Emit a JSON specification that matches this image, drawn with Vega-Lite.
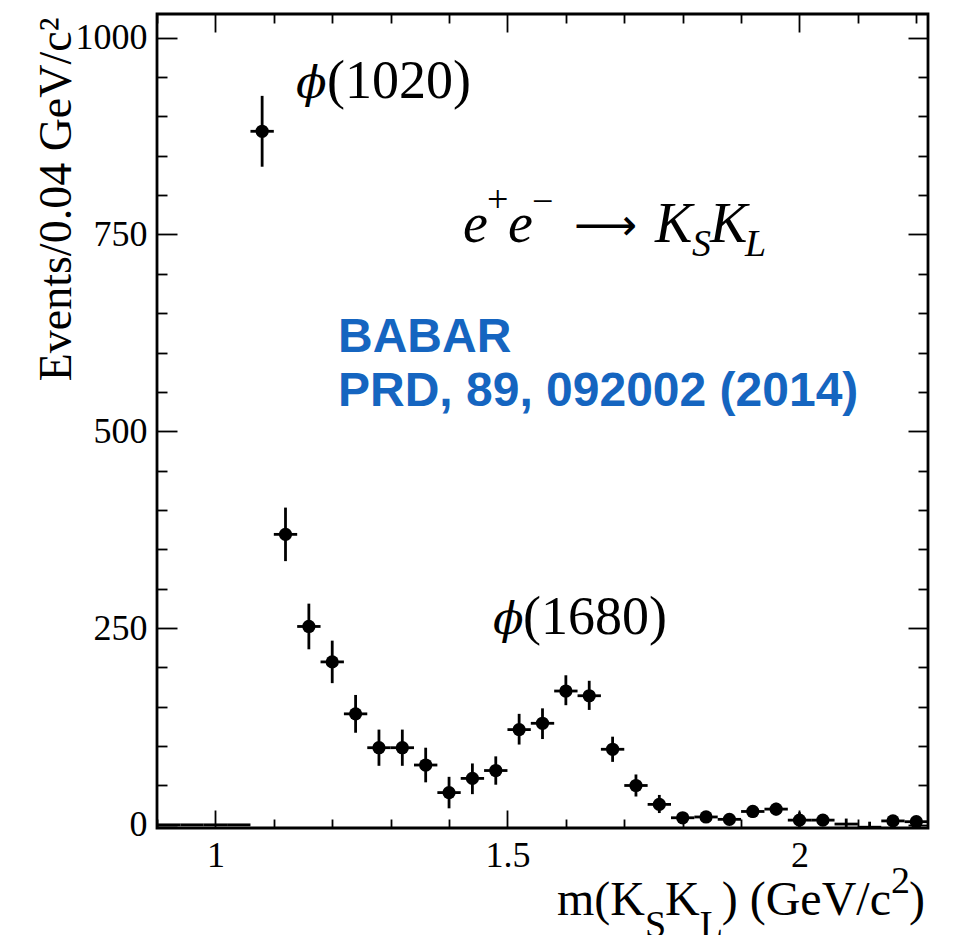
{
  "$schema": "https://vega.github.io/schema/vega-lite/v6.json",
  "width": 771,
  "height": 814,
  "autosize": {"type": "none"},
  "padding": {"left": 157, "top": 14, "right": 29, "bottom": 107},
  "background": "white",
  "config": {
    "view": {"stroke": "black", "strokeWidth": 2.8},
    "axis": {"grid": false, "domain": false, "labelFont": "Liberation Serif", "titleFont": "Liberation Serif", "labelColor": "black", "tickColor": "black", "titleColor": "black"}
  },
  "resolve": {"axis": {"x": "independent", "y": "independent"}},
  "datasets": {
    "bins": [
      {"x": 0.92, "xlo": 0.90, "xhi": 0.94, "y": 0, "lo": 0, "hi": 0},
      {"x": 0.96, "xlo": 0.94, "xhi": 0.98, "y": 0, "lo": 0, "hi": 0},
      {"x": 1.00, "xlo": 0.98, "xhi": 1.02, "y": 0, "lo": 0, "hi": 0},
      {"x": 1.04, "xlo": 1.02, "xhi": 1.06, "y": 0, "lo": 0, "hi": 0},
      {"x": 1.08, "xlo": 1.06, "xhi": 1.10, "y": 881, "lo": 836, "hi": 926},
      {"x": 1.12, "xlo": 1.10, "xhi": 1.14, "y": 369, "lo": 335, "hi": 403},
      {"x": 1.16, "xlo": 1.14, "xhi": 1.18, "y": 252, "lo": 223, "hi": 281},
      {"x": 1.20, "xlo": 1.18, "xhi": 1.22, "y": 207, "lo": 180, "hi": 234},
      {"x": 1.24, "xlo": 1.22, "xhi": 1.26, "y": 141, "lo": 117, "hi": 165},
      {"x": 1.28, "xlo": 1.26, "xhi": 1.30, "y": 98, "lo": 75, "hi": 121},
      {"x": 1.32, "xlo": 1.30, "xhi": 1.34, "y": 98, "lo": 75, "hi": 121},
      {"x": 1.36, "xlo": 1.34, "xhi": 1.38, "y": 76, "lo": 54, "hi": 98},
      {"x": 1.40, "xlo": 1.38, "xhi": 1.42, "y": 41, "lo": 21, "hi": 61},
      {"x": 1.44, "xlo": 1.42, "xhi": 1.46, "y": 59, "lo": 39, "hi": 78},
      {"x": 1.48, "xlo": 1.46, "xhi": 1.50, "y": 69, "lo": 51, "hi": 87},
      {"x": 1.52, "xlo": 1.50, "xhi": 1.54, "y": 121, "lo": 102, "hi": 141},
      {"x": 1.56, "xlo": 1.54, "xhi": 1.58, "y": 129, "lo": 109, "hi": 148},
      {"x": 1.60, "xlo": 1.58, "xhi": 1.62, "y": 170, "lo": 152, "hi": 190},
      {"x": 1.64, "xlo": 1.62, "xhi": 1.66, "y": 164, "lo": 146, "hi": 183},
      {"x": 1.68, "xlo": 1.66, "xhi": 1.70, "y": 96, "lo": 80, "hi": 112},
      {"x": 1.72, "xlo": 1.70, "xhi": 1.74, "y": 50, "lo": 36, "hi": 64},
      {"x": 1.76, "xlo": 1.74, "xhi": 1.78, "y": 26, "lo": 15, "hi": 38},
      {"x": 1.80, "xlo": 1.78, "xhi": 1.82, "y": 9, "lo": 3, "hi": 15},
      {"x": 1.84, "xlo": 1.82, "xhi": 1.86, "y": 10, "lo": 3, "hi": 17},
      {"x": 1.88, "xlo": 1.86, "xhi": 1.90, "y": 7, "lo": 1, "hi": 13},
      {"x": 1.92, "xlo": 1.90, "xhi": 1.94, "y": 17, "lo": 9, "hi": 25},
      {"x": 1.96, "xlo": 1.94, "xhi": 1.98, "y": 20, "lo": 12, "hi": 28},
      {"x": 2.00, "xlo": 1.98, "xhi": 2.02, "y": 6, "lo": -4, "hi": 16},
      {"x": 2.04, "xlo": 2.02, "xhi": 2.06, "y": 6, "lo": -1, "hi": 13},
      {"x": 2.08, "xlo": 2.06, "xhi": 2.10, "y": 1, "lo": -6, "hi": 8},
      {"x": 2.12, "xlo": 2.10, "xhi": 2.14, "y": -3, "lo": -10, "hi": 4},
      {"x": 2.16, "xlo": 2.14, "xhi": 2.18, "y": 5, "lo": -1, "hi": 11},
      {"x": 2.20, "xlo": 2.18, "xhi": 2.22, "y": 4, "lo": -2, "hi": 10}
    ],
    "phi": [
      {"t": "ϕ", "x": 1.1380, "y": 923.3},
      {"t": "ϕ", "x": 1.4753, "y": 242.4}
    ],
    "italicBig": [
      {"t": "e", "x": 1.4239, "y": 740.4},
      {"t": "e", "x": 1.5009, "y": 740.4},
      {"t": "K", "x": 1.7526, "y": 740.4},
      {"t": "K", "x": 1.8468, "y": 740.4}
    ],
    "italicSmall": [
      {"t": "S", "x": 1.8160, "y": 722.6},
      {"t": "L", "x": 1.9067, "y": 722.6}
    ],
    "romanBig": [
      {"t": "(1020)", "x": 1.1910, "y": 923.3},
      {"t": "(1680)", "x": 1.5267, "y": 242.4}
    ],
    "arrow": [
      {"t": "⟶", "x": 1.6140, "y": 743.0}
    ],
    "romanSmall": [
      {"t": "+", "x": 1.4650, "y": 778.0},
      {"t": "−", "x": 1.5420, "y": 776.0},
      {"t": "S", "x": 1.7355, "y": -142.4},
      {"t": "L", "x": 1.8291, "y": -142.4},
      {"t": "2", "x": 2.1565, "y": -86.6}
    ],
    "xTitle": [
      {"t": "m(K", "x": 1.5848, "y": -114.5},
      {"t": "K", "x": 1.7697, "y": -114.5},
      {"t": ") (GeV/c", "x": 1.8668, "y": -114.5},
      {"t": ")", "x": 2.1873, "y": -114.5}
    ],
    "babar": [
      {"t": "BABAR", "x": 1.2099, "y": 600.7},
      {"t": "PRD, 89, 092002 (2014)", "x": 1.2099, "y": 532.1}
    ]
  },
  "layer": [
    {
      "data": {"name": "bins"},
      "mark": {"type": "rule", "color": "black", "strokeWidth": 2.8, "clip": true},
      "encoding": {
        "x": {"field": "x", "type": "quantitative",
          "scale": {"domain": [0.9, 2.22], "nice": false, "zero": false},
          "axis": {"orient": "bottom", "values": [1, 1.5, 2], "format": "~g", "ticks": false, "labels": true, "labelFontSize": 36, "labelPadding": 10, "labelFlush": false, "labelOverlap": false, "title": null}},
        "y": {"field": "lo", "type": "quantitative",
          "scale": {"domain": [-4, 1030], "nice": false, "zero": false},
          "axis": {"orient": "left", "values": [0, 250, 500, 750, 1000], "format": "d", "ticks": false, "labelFontSize": 36, "labelPadding": 10, "labelFlush": false, "labelOverlap": false,
            "title": "Events/0.04 GeV/c²", "titleFontSize": 46, "titleFontWeight": "normal", "titleAngle": -90, "titleAlign": "right", "titleBaseline": "alphabetic", "titleX": -87, "titleY": 3}},
        "y2": {"field": "hi"}
      }
    },
    {
      "data": {"name": "bins"},
      "mark": {"type": "rule", "color": "black", "strokeWidth": 2.8, "clip": true},
      "encoding": {
        "x": {"field": "xlo", "type": "quantitative",
          "scale": {"domain": [0.9, 2.22], "nice": false, "zero": false},
          "axis": {"orient": "bottom", "values": [0.9, 1.0, 1.1, 1.2, 1.3, 1.4, 1.5, 1.6, 1.7, 1.8, 1.9, 2.0, 2.1, 2.2], "labels": false, "ticks": true, "tickWidth": 1.8,
            "tickSize": {"condition": {"test": "abs(datum.value * 2 - round(datum.value * 2)) < 0.001", "value": -18}, "value": -9}, "title": null}},
        "x2": {"field": "xhi"},
        "y": {"field": "y", "type": "quantitative",
          "scale": {"domain": [-4, 1030], "nice": false, "zero": false},
          "axis": {"orient": "left", "values": [0, 50, 100, 150, 200, 250, 300, 350, 400, 450, 500, 550, 600, 650, 700, 750, 800, 850, 900, 950, 1000], "labels": false, "ticks": true, "tickWidth": 1.8,
            "tickSize": {"condition": {"test": "datum.value % 250 == 0", "value": -20}, "value": -10}, "title": null}}
      }
    },
    {
      "data": {"name": "bins"},
      "transform": [{"filter": "datum.y > 2"}],
      "mark": {"type": "point", "shape": "circle", "filled": true, "color": "black", "opacity": 1, "size": 175, "strokeWidth": 0, "clip": true},
      "encoding": {
        "x": {"field": "x", "type": "quantitative",
          "scale": {"domain": [0.9, 2.22], "nice": false, "zero": false},
          "axis": {"orient": "top", "values": [0.9, 1.0, 1.1, 1.2, 1.3, 1.4, 1.5, 1.6, 1.7, 1.8, 1.9, 2.0, 2.1, 2.2], "labels": false, "ticks": true, "tickWidth": 1.8,
            "tickSize": {"condition": {"test": "abs(datum.value * 2 - round(datum.value * 2)) < 0.001", "value": -18}, "value": -9}, "title": null}},
        "y": {"field": "y", "type": "quantitative",
          "scale": {"domain": [-4, 1030], "nice": false, "zero": false},
          "axis": {"orient": "right", "values": [0, 50, 100, 150, 200, 250, 300, 350, 400, 450, 500, 550, 600, 650, 700, 750, 800, 850, 900, 950, 1000], "labels": false, "ticks": true, "tickWidth": 1.8,
            "tickSize": {"condition": {"test": "datum.value % 250 == 0", "value": -20}, "value": -10}, "title": null}}
      }
    },
    {
      "data": {"name": "phi"},
      "mark": {"type": "text", "font": "DejaVu Serif", "fontStyle": "italic", "fontSize": 45, "align": "left", "baseline": "alphabetic", "color": "black"},
      "encoding": {
        "x": {"field": "x", "type": "quantitative", "axis": null, "scale": {"domain": [0.9, 2.22], "nice": false, "zero": false}},
        "y": {"field": "y", "type": "quantitative", "axis": null, "scale": {"domain": [-4, 1030], "nice": false, "zero": false}},
        "text": {"field": "t"}
      }
    },
    {
      "data": {"name": "italicBig"},
      "mark": {"type": "text", "font": "Liberation Serif", "fontStyle": "italic", "fontSize": 56, "align": "left", "baseline": "alphabetic", "color": "black"},
      "encoding": {
        "x": {"field": "x", "type": "quantitative", "axis": null, "scale": {"domain": [0.9, 2.22], "nice": false, "zero": false}},
        "y": {"field": "y", "type": "quantitative", "axis": null, "scale": {"domain": [-4, 1030], "nice": false, "zero": false}},
        "text": {"field": "t"}
      }
    },
    {
      "data": {"name": "italicSmall"},
      "mark": {"type": "text", "font": "Liberation Serif", "fontStyle": "italic", "fontSize": 38, "align": "left", "baseline": "alphabetic", "color": "black"},
      "encoding": {
        "x": {"field": "x", "type": "quantitative", "axis": null, "scale": {"domain": [0.9, 2.22], "nice": false, "zero": false}},
        "y": {"field": "y", "type": "quantitative", "axis": null, "scale": {"domain": [-4, 1030], "nice": false, "zero": false}},
        "text": {"field": "t"}
      }
    },
    {
      "data": {"name": "romanBig"},
      "mark": {"type": "text", "font": "Liberation Serif", "fontSize": 54, "align": "left", "baseline": "alphabetic", "color": "black"},
      "encoding": {
        "x": {"field": "x", "type": "quantitative", "axis": null, "scale": {"domain": [0.9, 2.22], "nice": false, "zero": false}},
        "y": {"field": "y", "type": "quantitative", "axis": null, "scale": {"domain": [-4, 1030], "nice": false, "zero": false}},
        "text": {"field": "t"}
      }
    },
    {
      "data": {"name": "arrow"},
      "mark": {"type": "text", "font": "DejaVu Sans", "fontSize": 44, "align": "left", "baseline": "alphabetic", "color": "black"},
      "encoding": {
        "x": {"field": "x", "type": "quantitative", "axis": null, "scale": {"domain": [0.9, 2.22], "nice": false, "zero": false}},
        "y": {"field": "y", "type": "quantitative", "axis": null, "scale": {"domain": [-4, 1030], "nice": false, "zero": false}},
        "text": {"field": "t"}
      }
    },
    {
      "data": {"name": "romanSmall"},
      "mark": {"type": "text", "font": "Liberation Serif", "fontSize": 38, "align": "left", "baseline": "alphabetic", "color": "black"},
      "encoding": {
        "x": {"field": "x", "type": "quantitative", "axis": null, "scale": {"domain": [0.9, 2.22], "nice": false, "zero": false}},
        "y": {"field": "y", "type": "quantitative", "axis": null, "scale": {"domain": [-4, 1030], "nice": false, "zero": false}},
        "text": {"field": "t"}
      }
    },
    {
      "data": {"name": "xTitle"},
      "mark": {"type": "text", "font": "Liberation Serif", "fontSize": 48, "align": "left", "baseline": "alphabetic", "color": "black"},
      "encoding": {
        "x": {"field": "x", "type": "quantitative", "axis": null, "scale": {"domain": [0.9, 2.22], "nice": false, "zero": false}},
        "y": {"field": "y", "type": "quantitative", "axis": null, "scale": {"domain": [-4, 1030], "nice": false, "zero": false}},
        "text": {"field": "t"}
      }
    },
    {
      "data": {"name": "babar"},
      "mark": {"type": "text", "font": "Liberation Sans", "fontWeight": "bold", "fontSize": 48, "align": "left", "baseline": "alphabetic", "color": "#1565C0"},
      "encoding": {
        "x": {"field": "x", "type": "quantitative", "axis": null, "scale": {"domain": [0.9, 2.22], "nice": false, "zero": false}},
        "y": {"field": "y", "type": "quantitative", "axis": null, "scale": {"domain": [-4, 1030], "nice": false, "zero": false}},
        "text": {"field": "t"}
      }
    }
  ]
}
